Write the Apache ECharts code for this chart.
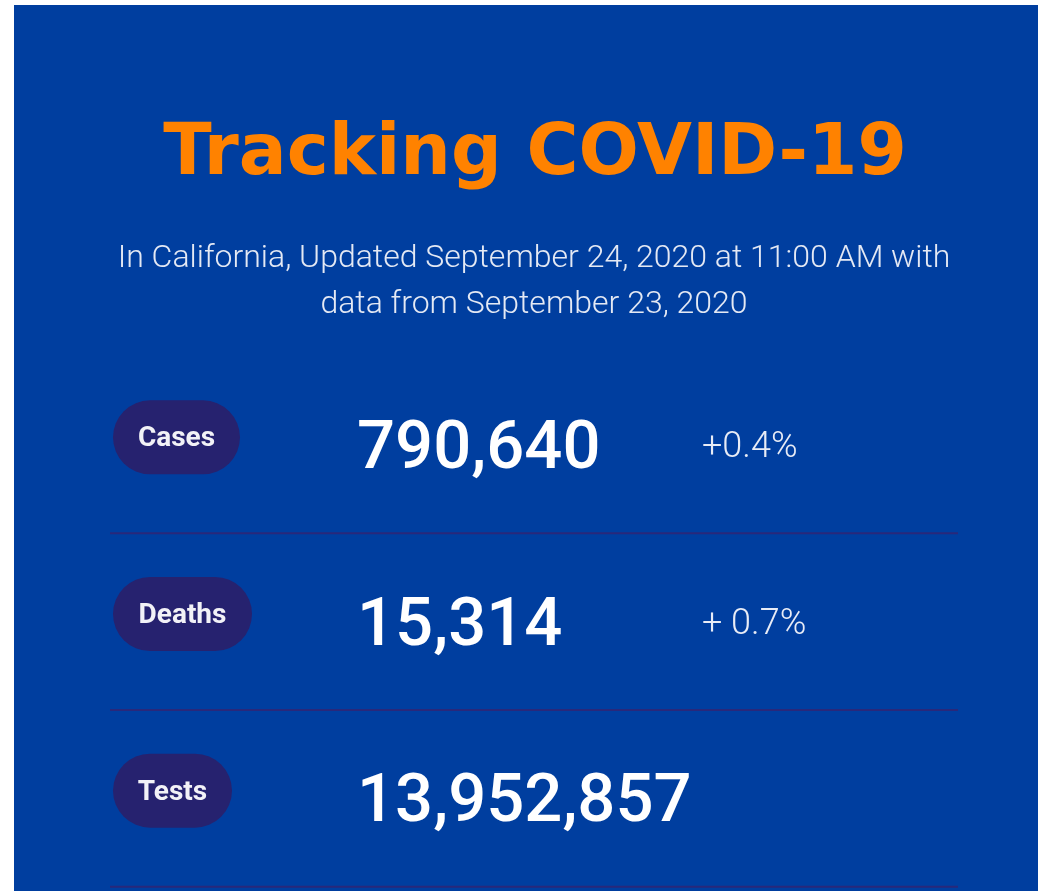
<!DOCTYPE html>
<html>
<head>
<meta charset="utf-8">
<script src="https://cdn.jsdelivr.net/npm/echarts@6/dist/echarts.min.js"></script>
<style>
  html, body { margin: 0; padding: 0; background: #fff; }
  #chart { width: 1038px; height: 891px; }
</style>
</head>
<body>
<div id="chart"></div>
<script>
  // stat rows
  var labels = ['Cases', 'Deaths', 'Tests'];
  var totals = [790640, 15314, 13952857];
  var changes = ['+0.4%', '+ 0.7%', ''];

  var titleText = 'Tracking COVID-19';
  var subtitleLines = [
    'In California, Updated September 24, 2020 at 11:00 AM with',
    'data from September 23, 2020'
  ];

  var blue = '#003E9F';
  var pill = '#26226F';
  var rule = '#29287A';

  var myChart = echarts.init(document.getElementById('chart'));

  function fmt(n) {
    return n.toString().replace(/\B(?=(\d{3})+(?!\d))/g, ',');
  }

  var rows = labels.map(function (l, i) {
    return [0, l, totals[i], changes[i]];
  });

  var cx = 534; // centre of the card content
  var graphics = [
    {
      type: 'rect', z: -10,
      shape: { x: 14, y: 5, width: 1024, height: 886 },
      style: { fill: blue }
    },
    {
      type: 'text', x: cx + 1, y: 156,
      style: {
        text: titleText, fill: '#FF8200',
        font: 'bold 71px "DejaVu Sans"',
        align: 'center', verticalAlign: 'middle'
      }
    }
  ];
  subtitleLines.forEach(function (line, i) {
    graphics.push({
      type: 'text', x: cx, y: 259 + i * 46,
      style: {
        text: line, fill: '#E4E9F4', font: '300 32px Roboto',
        align: 'center', verticalAlign: 'middle'
      }
    });
  });

  var option = {
    animation: false,
    backgroundColor: '#fff',
    graphic: graphics,
    grid: { left: 110, right: 80, top: 349, bottom: 12 },
    xAxis: { type: 'value', min: 0, max: 1, show: false },
    yAxis: {
      type: 'category', data: labels, inverse: true, show: false
    },
    series: [{
      type: 'custom',
      data: rows,
      encode: { x: 0, y: 1 },
      renderItem: function (params, api) {
        var p = api.coord([0, api.value(1)]);
        var x = p[0], y = p[1];
        var idx = params.dataIndex;
        var label = labels[idx];
        var pw = [127, 139, 119][idx];
        var children = [
          {
            type: 'rect',
            shape: { x: x + 3, y: y - 37, width: pw, height: 74, r: 37 },
            style: { fill: pill }
          },
          {
            type: 'text',
            style: {
              x: x + 3 + pw / 2, y: y + 2,
              text: label, fill: '#F2F2F7',
              font: 'bold 28px Roboto',
              align: 'center', verticalAlign: 'middle'
            }
          },
          {
            type: 'text',
            style: {
              x: x + 247, y: y + 14,
              text: fmt(api.value(2)), fill: '#FFFFFF',
              font: '500 67px Roboto',
              align: 'left', verticalAlign: 'middle'
            }
          },
          {
            type: 'text',
            style: {
              x: x + 592, y: y + 11,
              text: changes[idx], fill: '#E8ECF6',
              font: '300 36px Roboto',
              align: 'left', verticalAlign: 'middle'
            }
          },
          {
            type: 'line',
            shape: { x1: x, y1: y + 96, x2: x + 848, y2: y + 96 },
            style: { stroke: rule, lineWidth: 2 }
          }
        ];
        return { type: 'group', children: children };
      }
    }]
  };

  myChart.setOption(option);
  window.addEventListener('resize', function () { myChart.resize(); });
</script>
</body>
</html>
